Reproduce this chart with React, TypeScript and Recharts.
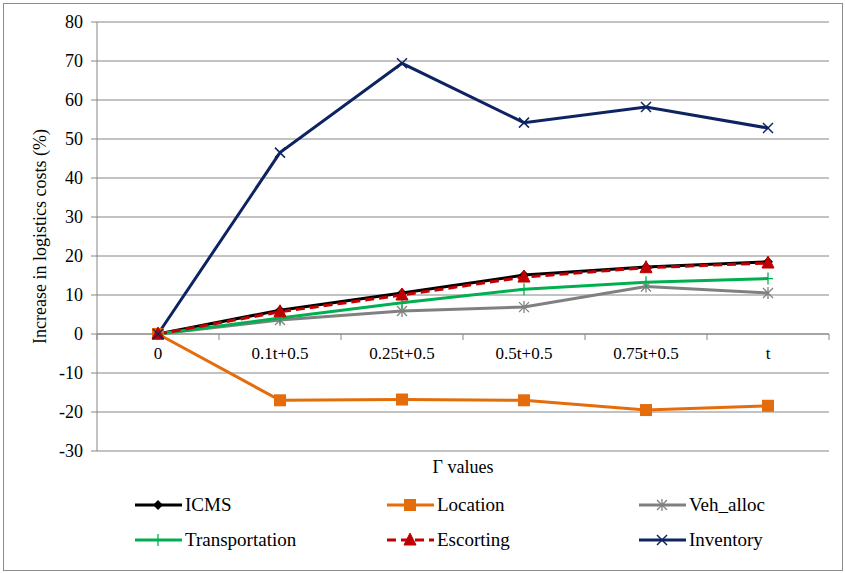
import { LineChart, Line, XAxis, YAxis, CartesianGrid, ReferenceLine } from "recharts";

const categories = ["0", "0.1t+0.5", "0.25t+0.5", "0.5t+0.5", "0.75t+0.5", "t"];
const icms = [0, 6.1, 10.5, 15.1, 17.2, 18.5];
const location = [0, -17, -16.8, -17, -19.5, -18.4];
const vehAlloc = [0, 3.6, 5.9, 6.9, 12.2, 10.5];
const transportation = [0, 4.1, 8.0, 11.5, 13.3, 14.2];
const escorting = [0, 5.7, 10.0, 14.6, 17.0, 18.2];
const inventory = [0, 46.5, 69.4, 54.2, 58.2, 52.8];
const yTicks = [80, 70, 60, 50, 40, 30, 20, 10, 0, -10, -20, -30];

const data = categories.map((g, i) => ({
  gamma: g,
  ICMS: icms[i],
  Location: location[i],
  Veh_alloc: vehAlloc[i],
  Transportation: transportation[i],
  Escorting: escorting[i],
  Inventory: inventory[i],
}));

const W = 845;
const H = 573;
const TOP = 22;
const LEFT = 97;
const RIGHT = 829;
const BOTTOM = 451;
const BAND = (RIGHT - LEFT) / categories.length;
const ZERO_Y = TOP + ((BOTTOM - TOP) * 80) / 110;
const FONT = "Liberation Serif";
const GRID = "#868686";

type Kind = "diamond" | "square" | "star" | "plus" | "triangle" | "cross";

function Marker({ cx, cy, kind, color }: { cx: number; cy: number; kind: Kind; color: string }) {
  switch (kind) {
    case "diamond":
      return <path d={`M${cx},${cy - 5} L${cx + 5},${cy} L${cx},${cy + 5} L${cx - 5},${cy} Z`} fill={color} />;
    case "square":
      return <rect x={cx - 6} y={cy - 6} width={12} height={12} fill={color} />;
    case "star":
      return (
        <g stroke={color} strokeWidth={1.3}>
          <line x1={cx - 5} y1={cy - 5} x2={cx + 5} y2={cy + 5} />
          <line x1={cx - 5} y1={cy + 5} x2={cx + 5} y2={cy - 5} />
          <line x1={cx} y1={cy - 6} x2={cx} y2={cy + 6} />
        </g>
      );
    case "plus":
      return (
        <g stroke={color} strokeWidth={1.3}>
          <line x1={cx - 5} y1={cy} x2={cx + 5} y2={cy} />
          <line x1={cx} y1={cy - 6} x2={cx} y2={cy + 6} />
        </g>
      );
    case "triangle":
      return <path d={`M${cx},${cy - 7} L${cx + 6},${cy + 5} L${cx - 6},${cy + 5} Z`} fill={color} stroke={color} strokeWidth={1} />;
    case "cross":
      return (
        <g stroke={color} strokeWidth={1.5}>
          <line x1={cx - 5} y1={cy - 5} x2={cx + 5} y2={cy + 5} />
          <line x1={cx - 5} y1={cy + 5} x2={cx + 5} y2={cy - 5} />
        </g>
      );
  }
  return null;
}

const series: { key: string; color: string; kind: Kind; dash?: string }[] = [
  { key: "ICMS", color: "#000000", kind: "diamond" },
  { key: "Location", color: "#E46C0A", kind: "square" },
  { key: "Veh_alloc", color: "#808080", kind: "star" },
  { key: "Transportation", color: "#00B050", kind: "plus" },
  { key: "Escorting", color: "#C00000", kind: "triangle", dash: "9 5" },
  { key: "Inventory", color: "#0E2462", kind: "cross" },
];

function XTick(props: any) {
  const { x, payload, index } = props;
  return (
    <g>
      <line x1={x - BAND / 2} y1={ZERO_Y} x2={x - BAND / 2} y2={ZERO_Y + 6} stroke={GRID} />
      {index === categories.length - 1 && (
        <line x1={x + BAND / 2} y1={ZERO_Y} x2={x + BAND / 2} y2={ZERO_Y + 6} stroke={GRID} />
      )}
      <text x={x} y={ZERO_Y + 25} textAnchor="middle" fontFamily={FONT} fontSize={17} fill="#000">
        {payload.value}
      </text>
    </g>
  );
}

const legendCols = [125, 377, 629];
const legendRows = [505, 540];

function LegendBox() {
  return (
    <svg width={W} height={80} style={{ position: "absolute", left: 0, top: 485, display: "block" }}>
      {series.map((s, i) => {
        const x = legendCols[i % 3];
        const y = legendRows[Math.floor(i / 3)] - 485;
        return (
          <g key={s.key}>
            <line x1={x + 10} y1={y} x2={x + 57} y2={y} stroke={s.color} strokeWidth={3} strokeDasharray={s.dash} />
            <Marker cx={x + 33} cy={y} kind={s.kind} color={s.color} />
            <text x={x + 60} y={y + 6} fontFamily={FONT} fontSize={19} fill="#000">
              {s.key}
            </text>
          </g>
        );
      })}
    </svg>
  );
}

export default function App() {
  return (
    <div style={{ position: "absolute", left: 0, top: 0, width: W, height: H, background: "#fff" }}>
      <div style={{ position: "absolute", left: 3, top: 3, width: 838, height: 566, border: "1px solid #8c8c8c" }} />
      <div style={{ position: "absolute", left: 0, top: 0 }}>
        <LineChart
          width={W}
          height={H}
          data={data}
          margin={{ top: TOP, right: W - RIGHT, left: 0, bottom: H - BOTTOM - 30 }}
        >
          <CartesianGrid vertical={false} stroke={GRID} strokeWidth={1} />
          <XAxis
            dataKey="gamma"
            height={30}
            axisLine={false}
            tickLine={false}
            tick={<XTick />}
            interval={0}
            padding={{ left: BAND / 2, right: BAND / 2 }}
            label={{ value: "Γ values", position: "insideBottom", offset: 8, fontFamily: FONT, fontSize: 18, fill: "#000" }}
          />
          <YAxis
            width={LEFT}
            domain={[-30, 80]}
            ticks={yTicks}
            interval={0}
            stroke={GRID}
            tickSize={6}
            tickMargin={8}
            tick={{ fontFamily: FONT, fontSize: 18, fill: "#000" }}
            label={{
              value: "Increase in logistics costs (%)",
              angle: -90,
              position: "insideLeft",
              offset: 40,
              style: { textAnchor: "middle" },
              fontFamily: FONT,
              fontSize: 18,
              fill: "#000",
            }}
          />
          <ReferenceLine y={0} stroke={GRID} strokeWidth={1} />
          {series.map((s) => (
            <Line
              key={s.key}
              dataKey={s.key}
              stroke={s.color}
              strokeWidth={3}
              strokeDasharray={s.dash}
              isAnimationActive={false}
              dot={(p: any) => <Marker key={`${s.key}-${p.index}`} cx={p.cx} cy={p.cy} kind={s.kind} color={s.color} />}
              activeDot={false}
            />
          ))}
        </LineChart>
      </div>
      <LegendBox />
    </div>
  );
}
